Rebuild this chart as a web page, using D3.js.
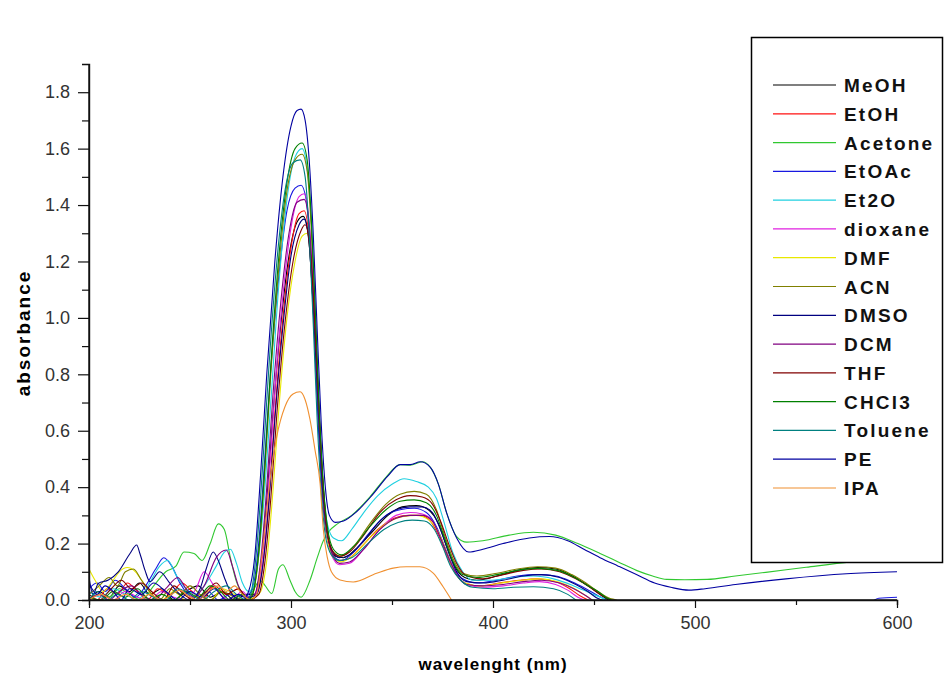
<!DOCTYPE html>
<html>
<head>
<meta charset="utf-8">
<script src="https://cdn.jsdelivr.net/npm/d3@7"></script>
<style>
  body { margin: 0; background: #fff; }
  svg { display: block; }
  text { font-family: Arial, "Liberation Sans", sans-serif; }
</style>
</head>
<body>
<svg id="chart" width="945" height="681"></svg>
<script>
// legend order and Origin-ish colours
const solvents = ["MeOH", "EtOH", "Acetone", "EtOAc", "Et2O", "dioxane", "DMF", "ACN",
                  "DMSO", "DCM", "THF", "CHCl3", "Toluene", "PE", "IPA"];
const colors = ["#000000", "#ff1010", "#30c830", "#1818e0", "#20d0e0", "#e020e0", "#e8e800", "#808000",
                "#000080", "#800080", "#800000", "#008000", "#008080", "#0000a0", "#f09030"];

const xTicks = [200, 300, 400, 500, 600];
const xMinor = [250, 350, 450, 550];
const yTicks = [0, 0.2, 0.4, 0.6, 0.8, 1.0, 1.2, 1.4, 1.6, 1.8];
const yMinor = [0.1, 0.3, 0.5, 0.7, 0.9, 1.1, 1.3, 1.5, 1.7];

// [wavelength nm, absorbance]
const meoh = [[200,0.0],[205,0.03],[210,0.01],[215,0.05],[220,0.03],[225,0.06],[230,0.02],[236,0.04],[242,0.0],[248,0.03],[254,0.05],[260,0.01],[266,0.03],[272,0.0],[278,0.02],
  [282,0.02],[285,0.12],[288,0.35],[291,0.65],[295,0.98],[299,1.22],[303,1.34],[306,1.36],[308.5,1.3],[310.5,1.1],[312.5,0.82],[314.5,0.52],[316.5,0.3],[319,0.19],[322,0.155],[326,0.15],[332,0.18],[340,0.24],[348,0.3],[355,0.33],[362,0.335],[368,0.32],[373,0.27],[377,0.19],[381,0.12],[386,0.08],[392,0.07],[402,0.085],[412,0.105],[422,0.115],[431,0.11],[438,0.09],[445,0.06],[451,0.03],[457,0.0],[463,-0.03]];
const etoh = [[200,0.01],[204,0.0],[209,0.04],[214,0.02],[219,0.06],[224,0.03],[229,0.0],[234,0.04],[240,0.02],[246,0.06],[251,0.03],[256,0.0],[262,0.05],[268,0.02],[274,0.04],[279,0.0],
  [283,0.02],[286,0.12],[289,0.35],[292,0.66],[296,1.0],[300,1.25],[304,1.37],[306.5,1.38],[309,1.28],[311,1.05],[313,0.75],[315,0.46],[317,0.27],[320,0.17],[324,0.14],[328,0.145],[335,0.19],[343,0.25],[351,0.29],[358,0.3],[364,0.3],[369,0.28],[373,0.23],[377,0.16],[381,0.1],[386,0.06],[393,0.05],[403,0.06],[413,0.07],[422,0.075],[431,0.065],[438,0.04],[443,0.015],[447,0.0],[452,-0.03]];
const acetone = [[200,0.0],[205,0.02],[210,0.01],[215,0.04],[220,0.02],[226,0.0],[232,0.05],[238,0.1],[243,0.12],[247,0.17],[252,0.165],[256,0.14],[260,0.2],[264,0.27],[267,0.25],[270,0.15],[273,0.065],[276,0.023],[279,0.01],[281,0.03],[284.7,0.07],[287,0.053],[290.5,0.023],[293.8,0.11],[296,0.125],[299.5,0.07],[302,0.03],[305,0.01],[309.4,0.07],[313,0.15],[316,0.21],[319,0.245],[323,0.27],[330,0.3],[339,0.365],[347,0.435],[354,0.48],[359,0.478],[365,0.49],[369,0.47],[373,0.41],[377,0.31],[382,0.225],[387,0.205],[395,0.21],[408,0.23],[420,0.24],[431,0.23],[442,0.2],[453,0.165],[462,0.135],[471,0.105],[479,0.085],[486,0.073],[495,0.072],[506,0.073],[520,0.085],[535,0.098],[555,0.116],[577,0.135],[600,0.15]];
const etoac = [[200,0.04],[204,0.06],[208,0.03],[213,0.07],[218,0.04],[223,0.01],[228,0.05],[233,0.11],[237,0.15],[241,0.12],[245,0.06],[249,0.02],[254,0.0],[259,0.03],[264,0.0],[270,0.02],[276,0.0],[279,0.02],
  [281,0.04],[284,0.2],[287,0.5],[290,0.82],[294,1.15],[298,1.38],[302,1.46],[305,1.47],[307.5,1.42],[309.5,1.25],[311.5,0.95],[313.5,0.62],[315.5,0.38],[318,0.22],[321,0.155],[325,0.14],[331,0.17],[339,0.24],[347,0.3],[354,0.32],[361,0.325],[367,0.31],[372,0.26],[376,0.19],[380,0.12],[385,0.075],[392,0.06],[402,0.07],[412,0.085],[422,0.09],[431,0.085],[439,0.065],[446,0.04],[452,0.015],[456,0.0],[461,-0.03],[480,-0.06],[540,-0.06],[584,-0.02],[591,0.006],[600,0.01]];
const et2o = [[200,0.03],[206,0.01],[212,0.04],[218,0.02],[224,0.0],[230,0.06],[235,0.12],[239,0.14],[243,0.09],[248,0.04],[253,0.02],[258,0.06],[263,0.12],[267,0.17],[270,0.18],[273,0.13],[276,0.06],[279,0.03],
  [282,0.06],[286,0.3],[290,0.7],[294,1.12],[298,1.42],[302,1.57],[305.5,1.6],[308,1.53],[310,1.35],[312,1.02],[314,0.66],[316,0.4],[318,0.27],[321,0.22],[325,0.21],[330,0.25],[336,0.31],[343,0.37],[350,0.41],[356,0.43],[362,0.42],[368,0.4],[372,0.36],[376,0.27],[380,0.17],[385,0.1],[390,0.07],[398,0.07],[410,0.08],[420,0.085],[430,0.075],[440,0.05],[448,0.025],[456,0.0],[462,-0.03]];
const dioxane = [[200,0.0],[206,0.02],[212,0.0],[218,0.03],[224,0.01],[230,0.0],[236,0.03],[242,0.01],[248,0.0],[253,0.04],[257,0.1],[261,0.06],[265,0.02],[270,0.0],[276,0.03],[280,0.0],
  [283,0.03],[286,0.16],[289,0.42],[292,0.74],[296,1.08],[300,1.32],[304,1.43],[306.5,1.44],[309,1.34],[311,1.1],[313,0.78],[315,0.48],[317,0.28],[320,0.16],[324,0.125],[329,0.13],[336,0.18],[344,0.25],[352,0.3],[359,0.31],[365,0.305],[370,0.28],[374,0.22],[378,0.15],[382,0.09],[387,0.055],[395,0.045],[405,0.05],[415,0.06],[423,0.065],[431,0.055],[437,0.035],[442,0.01],[445,0.0],[450,-0.03]];
const dmf = [[200,0.11],[203,0.07],[207,0.03],[211,0.06],[215,0.1],[219,0.115],[223,0.1],[227,0.06],[231,0.02],[236,0.0],[242,0.03],[248,0.0],[254,0.02],[260,0.0],[266,0.04],[272,0.02],[278,0.0],[282,0.01],
  [285,0.03],[288,0.14],[291,0.38],[294,0.68],[298,1.0],[302,1.2],[305.5,1.29],[308,1.3],[310,1.18],[312,0.92],[314,0.62],[316,0.37],[318,0.22],[321,0.15],[325,0.135],[331,0.16],[339,0.22],[347,0.27],[355,0.295],[362,0.3],[368,0.285],[373,0.24],[377,0.17],[381,0.1],[386,0.06],[394,0.05],[404,0.06],[414,0.07],[423,0.075],[432,0.065],[439,0.045],[445,0.02],[449,0.0],[454,-0.03]];
const acn = [[200,0.02],[205,0.05],[210,0.08],[214,0.05],[218,0.1],[222,0.11],[226,0.07],[230,0.03],[235,0.0],[240,0.04],[245,0.02],[250,0.05],[255,0.02],[260,0.0],[266,0.03],[272,0.01],[278,0.0],
  [281,0.02],[284,0.16],[287,0.45],[290,0.8],[294,1.18],[298,1.45],[302,1.56],[305.5,1.58],[308,1.52],[310,1.32],[312,1.0],[314,0.65],[316,0.4],[318,0.25],[321,0.17],[325,0.155],[331,0.19],[339,0.27],[347,0.34],[354,0.375],[361,0.385],[367,0.375],[372,0.32],[376,0.23],[380,0.15],[385,0.095],[392,0.085],[402,0.095],[412,0.11],[422,0.118],[431,0.113],[439,0.09],[446,0.06],[452,0.03],[458,0.005],[461,0.0],[466,-0.03]];
const dmso = [[200,0.08],[202,0.02],[204.6,0.059],[209.6,0.071],[214.5,0.1],[220.3,0.165],[223.6,0.195],[225.2,0.165],[227.7,0.106],[230.2,0.065],[235,0.1],[240,0.06],[245,0.02],[250,0.0],[255,0.04],[258,0.11],[261.5,0.17],[264,0.14],[267,0.08],[270,0.03],[275,0.0],[280,0.01],
  [283,0.02],[286,0.12],[289,0.34],[292,0.64],[296,0.97],[300,1.22],[304,1.33],[306.5,1.35],[309,1.26],[311,1.04],[313,0.75],[315,0.46],[317,0.28],[320,0.18],[324,0.15],[329,0.16],[336,0.21],[344,0.28],[352,0.32],[359,0.33],[365,0.33],[370,0.31],[374,0.25],[378,0.17],[382,0.1],[387,0.065],[395,0.06],[405,0.07],[415,0.085],[424,0.09],[433,0.08],[441,0.055],[447,0.03],[452,0.005],[454,0.0],[459,-0.03]];
const dcm = [[200,0.0],[205,0.02],[210,0.0],[215,0.03],[221,0.05],[226,0.02],[232,0.0],[238,0.04],[244,0.08],[248,0.04],[252,0.01],[257,0.05],[263,0.15],[268,0.177],[271,0.12],[274,0.05],[278,0.01],
  [282,0.02],[285,0.14],[288,0.4],[291,0.72],[295,1.06],[299,1.3],[303,1.41],[306.5,1.42],[309,1.33],[311,1.1],[313,0.8],[315,0.5],[317,0.3],[320,0.17],[324,0.13],[329,0.135],[336,0.18],[344,0.25],[352,0.29],[359,0.3],[365,0.3],[370,0.28],[374,0.22],[378,0.15],[382,0.09],[387,0.055],[395,0.05],[405,0.055],[415,0.065],[424,0.07],[433,0.06],[440,0.04],[446,0.015],[449,0.0],[454,-0.03]];
const thf = [[200,0.02],[205,0.0],[211,0.04],[216,0.07],[221,0.04],[226,0.06],[231,0.03],[237,0.0],[242,0.05],[247,0.02],[252,0.0],[258,0.03],[263,0.06],[268,0.02],[274,0.04],[279,0.0],
  [284,0.02],[287,0.13],[290,0.36],[293,0.66],[297,0.98],[301,1.2],[305,1.31],[307,1.33],[309.5,1.24],[311.5,1.02],[313.5,0.73],[315.5,0.45],[317.5,0.27],[320,0.18],[324,0.155],[329,0.17],[336,0.23],[344,0.31],[352,0.355],[359,0.37],[365,0.365],[370,0.34],[374,0.28],[378,0.2],[382,0.13],[387,0.085],[395,0.075],[405,0.09],[415,0.105],[424,0.11],[433,0.1],[441,0.075],[448,0.045],[454,0.015],[458,0.0],[463,-0.03]];
const chcl3 = [[200,0.01],[206,0.0],[212,0.03],[218,0.01],[224,0.04],[230,0.0],[236,0.02],[242,0.0],[248,0.03],[254,0.01],[260,0.05],[265,0.03],[270,0.0],[276,0.02],[279,0.0],
  [281,0.02],[284,0.17],[287,0.47],[290,0.83],[294,1.22],[298,1.48],[302,1.6],[305.5,1.62],[308,1.56],[310,1.36],[312,1.03],[314,0.67],[316,0.41],[318,0.26],[321,0.18],[325,0.16],[331,0.19],[339,0.26],[347,0.32],[354,0.35],[361,0.355],[367,0.345],[372,0.3],[376,0.22],[380,0.14],[385,0.09],[392,0.08],[402,0.09],[412,0.105],[422,0.112],[431,0.106],[439,0.085],[446,0.055],[452,0.03],[457,0.005],[459,0.0],[464,-0.03]];
const toluene = [[200,0.0],[204,0.03],[209,0.0],[214,0.02],[220,0.0],[226,0.03],[232,0.01],[238,0.0],[244,0.04],[250,0.02],[256,0.0],[262,0.03],[268,0.05],[273,0.02],[278,0.0],
  [280,0.02],[283,0.18],[286,0.48],[289,0.82],[293,1.2],[297,1.45],[301,1.55],[304.5,1.56],[307,1.5],[309,1.3],[311,0.98],[313,0.63],[315,0.38],[317,0.23],[320,0.16],[324,0.14],[330,0.15],[338,0.2],[346,0.25],[353,0.275],[360,0.283],[366,0.28],[371,0.25],[375,0.19],[379,0.12],[384,0.07],[390,0.045],[400,0.04],[410,0.045],[420,0.047],[430,0.04],[437,0.02],[441,0.0],[446,-0.03]];
const pe = [[200,0.06],[204,0.02],[208,0.05],[212,0.03],[216,0.0],[220,0.04],[226,0.02],[232,0.06],[238,0.03],[244,0.0],[250,0.03],[256,0.01],[262,0.04],[268,0.0],[274,0.02],[277,0.01],
  [279,0.03],[282,0.15],[285,0.45],[288,0.8],[292,1.2],[296,1.5],[300,1.68],[303,1.735],[305,1.74],[307,1.7],[309,1.56],[311,1.3],[313,0.95],[315,0.62],[317,0.4],[319,0.3],[322,0.275],[326,0.28],[332,0.31],[340,0.37],[348,0.44],[354,0.48],[359,0.48],[364,0.49],[369,0.47],[373,0.41],[377,0.31],[382,0.22],[388,0.17],[395,0.18],[405,0.2],[418,0.22],[428,0.225],[437,0.21],[445,0.18],[453,0.15],[462,0.12],[471,0.09],[480,0.06],[488,0.045],[497,0.035],[505,0.04],[520,0.055],[545,0.075],[575,0.093],[600,0.1]];
const ipa = [[200,0.0],[206,0.02],[212,0.0],[218,0.02],[224,0.0],[230,0.02],[236,0.0],[241,0.02],[245,0.035],[249,0.015],[254,0.0],[259,0.03],[264,0.05],[268,0.03],[272,0.05],[276,0.02],[280,0.0],
  [283,0.02],[285.5,0.15],[288,0.32],[290.4,0.47],[292.9,0.578],[297,0.685],[301,0.73],[304.5,0.738],[307,0.71],[309.4,0.64],[311.9,0.531],[314.4,0.413],[316,0.25],[318,0.15],[320,0.1],[324.3,0.071],[330.8,0.064],[342.4,0.095],[350.6,0.113],[357,0.118],[363.8,0.118],[370.4,0.095],[375.3,0.047],[379.5,0.0],[384,-0.04]];

const spectra = [meoh, etoh, acetone, etoac, et2o, dioxane, dmf, acn, dmso, dcm, thf, chcl3, toluene, pe, ipa];

const svg = d3.select("#chart");
svg.append("rect").attr("width", 945).attr("height", 681).attr("fill", "#fff");

const plot = {left: 89, right: 897, top: 64, bottom: 600};

const x = d3.scaleLinear().domain([200, 600]).range([plot.left, plot.right]);
const y = d3.scaleLinear().domain([0, 1.9]).range([plot.bottom, plot.top]);

svg.append("defs").append("clipPath")
    .attr("id", "plotclip")
  .append("rect")
    .attr("x", plot.left)
    .attr("y", plot.top)
    .attr("width", plot.right - plot.left + 1)
    .attr("height", plot.bottom - plot.top);

const line = d3.line()
    .curve(d3.curveMonotoneX)
    .x(d => x(d[0]))
    .y(d => y(d[1]));

svg.append("g")
    .attr("clip-path", "url(#plotclip)")
  .selectAll("path.spectrum")
  .data(spectra)
  .join("path")
    .attr("class", "spectrum")
    .attr("fill", "none")
    .attr("stroke", (d, i) => colors[i])
    .attr("stroke-width", 1.1)
    .attr("stroke-linejoin", "round")
    .attr("d", line);

// axes
const yAxis = svg.append("g")
    .attr("transform", `translate(${plot.left},0)`)
    .call(d3.axisLeft(y).tickValues(yTicks).tickFormat(d3.format(".1f")).tickSize(11).tickPadding(8));
yAxis.append("g")
    .call(d3.axisLeft(y).tickValues(yMinor).tickFormat("").tickSize(7));

const xAxis = svg.append("g")
    .attr("transform", `translate(0,${plot.bottom})`)
    .call(d3.axisBottom(x).tickValues(xTicks).tickFormat(d3.format("d")).tickSize(8).tickPadding(8));
xAxis.append("g")
    .call(d3.axisBottom(x).tickValues(xMinor).tickFormat("").tickSize(5));

svg.selectAll(".domain").attr("stroke", "#111").attr("stroke-width", 1.4);
svg.selectAll(".tick line").attr("stroke", "#111").attr("stroke-width", 1.2);
svg.selectAll(".tick text")
    .attr("font-size", 18)
    .attr("fill", "#333")
    .style("font-family", "Arial, 'Liberation Sans', sans-serif");
yAxis.select(".domain").attr("d", `M0,${plot.bottom}V${plot.top}`);
xAxis.select(".domain").attr("d", `M${plot.left},0H${plot.right}`);

svg.append("text")
    .attr("transform", "translate(30,333) rotate(-90)")
    .attr("text-anchor", "middle")
    .attr("font-weight", "bold")
    .attr("font-size", 19)
    .attr("letter-spacing", 2)
    .text("absorbance");

svg.append("text")
    .attr("x", 493)
    .attr("y", 670)
    .attr("text-anchor", "middle")
    .attr("font-weight", "bold")
    .attr("font-size", 17)
    .attr("letter-spacing", 1)
    .text("wavelenght (nm)");

// legend box
const legend = svg.append("g").attr("class", "legend");
legend.append("rect")
    .attr("x", 751.5)
    .attr("y", 37.5)
    .attr("width", 191)
    .attr("height", 525)
    .attr("fill", "#fff")
    .attr("stroke", "#000")
    .attr("stroke-width", 1.5);

const rowY = d3.scalePoint().domain(solvents).range([85, 488]);

const item = legend.selectAll("g.item")
  .data(solvents)
  .join("g")
    .attr("class", "item")
    .attr("transform", d => `translate(0,${rowY(d)})`);

item.append("line")
    .attr("x1", 773)
    .attr("x2", 836)
    .attr("stroke", (d, i) => colors[i])
    .attr("stroke-width", 1.2);

item.append("text")
    .attr("x", 844)
    .attr("y", 7)
    .attr("font-weight", "bold")
    .attr("font-size", 19)
    .attr("letter-spacing", 2.2)
    .attr("fill", "#111")
    .text(d => d);
</script>
</body>
</html>
